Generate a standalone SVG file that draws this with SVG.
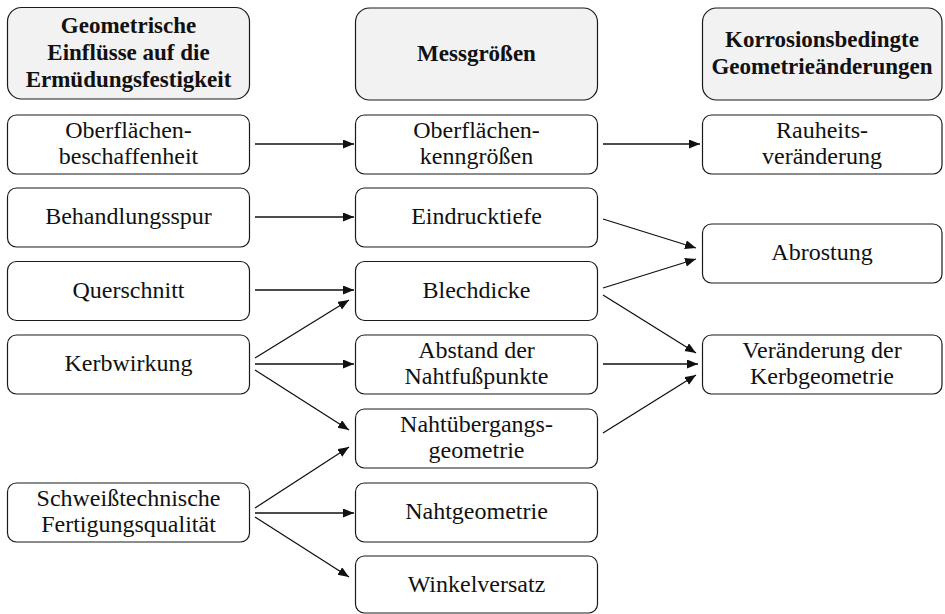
<svg xmlns="http://www.w3.org/2000/svg" width="945" height="614" viewBox="0 0 945 614">
  <style>
    .box { fill: #ffffff; stroke: #1a1a1a; stroke-width: 1.2; }
    .head { fill: #f2f2f2; stroke: #1a1a1a; stroke-width: 1.2; }
    .t { font-family: "Liberation Serif", "Times New Roman", serif; font-size: 24px; fill: #111; text-anchor: middle; }
    .h { font-family: "Liberation Serif", "Times New Roman", serif; font-size: 23px; font-weight: bold; fill: #111; text-anchor: middle; }
    .c { stroke: #111; stroke-width: 1.3; fill: none; marker-end: url(#arrow); }
  </style>
  <defs>
    <marker id="arrow" markerUnits="userSpaceOnUse" markerWidth="12" markerHeight="10" refX="11" refY="4.5" orient="auto">
      <path d="M0,0 L11,4.5 L0,9 z" fill="#111"/>
    </marker>
  </defs>

  <rect width="945" height="614" fill="#ffffff"/>

  <!-- column headers -->
  <g id="head-left">
    <rect class="head" x="7.5" y="7.5" width="242" height="91.5" rx="14"/>
    <text class="h" x="128.5" y="33">Geometrische</text>
    <text class="h" x="128.5" y="60">Einflüsse auf die</text>
    <text class="h" x="128.5" y="87">Ermüdungsfestigkeit</text>
  </g>
  <g id="head-mid">
    <rect class="head" x="355.5" y="8" width="242" height="92" rx="14"/>
    <text class="h" x="476.5" y="61">Messgrößen</text>
  </g>
  <g id="head-right">
    <rect class="head" x="702.5" y="8" width="239.5" height="92" rx="14"/>
    <text class="h" x="822" y="47">Korrosionsbedingte</text>
    <text class="h" x="822" y="74">Geometrieänderungen</text>
  </g>

  <!-- left column -->
  <g id="oberflaechenbeschaffenheit">
    <rect class="box" x="7.5" y="115" width="242" height="59" rx="9"/>
    <text class="t" x="128.5" y="138">Oberflächen-</text>
    <text class="t" x="128.5" y="164">beschaffenheit</text>
  </g>
  <g id="behandlungsspur">
    <rect class="box" x="7.5" y="188" width="242" height="59" rx="9"/>
    <text class="t" x="128.5" y="224">Behandlungsspur</text>
  </g>
  <g id="querschnitt">
    <rect class="box" x="7.5" y="261.5" width="242" height="59" rx="9"/>
    <text class="t" x="128.5" y="297.5">Querschnitt</text>
  </g>
  <g id="kerbwirkung">
    <rect class="box" x="7.5" y="335" width="242" height="59" rx="9"/>
    <text class="t" x="128.5" y="371">Kerbwirkung</text>
  </g>
  <g id="schweisstechnik">
    <rect class="box" x="7.5" y="483" width="242" height="59" rx="9"/>
    <text class="t" x="128.5" y="506">Schweißtechnische</text>
    <text class="t" x="128.5" y="532">Fertigungsqualität</text>
  </g>

  <!-- middle column -->
  <g id="oberflaechenkenngroessen">
    <rect class="box" x="355.5" y="115" width="242" height="59" rx="9"/>
    <text class="t" x="476.5" y="138">Oberflächen-</text>
    <text class="t" x="476.5" y="164">kenngrößen</text>
  </g>
  <g id="eindrucktiefe">
    <rect class="box" x="355.5" y="188" width="242" height="59" rx="9"/>
    <text class="t" x="476.5" y="224">Eindrucktiefe</text>
  </g>
  <g id="blechdicke">
    <rect class="box" x="355.5" y="261.5" width="242" height="59" rx="9"/>
    <text class="t" x="476.5" y="297.5">Blechdicke</text>
  </g>
  <g id="abstand">
    <rect class="box" x="355.5" y="335" width="242" height="59" rx="9"/>
    <text class="t" x="476.5" y="358">Abstand der</text>
    <text class="t" x="476.5" y="384">Nahtfußpunkte</text>
  </g>
  <g id="nahtuebergang">
    <rect class="box" x="355.5" y="409" width="242" height="59" rx="9"/>
    <text class="t" x="476.5" y="432">Nahtübergangs-</text>
    <text class="t" x="476.5" y="458">geometrie</text>
  </g>
  <g id="nahtgeometrie">
    <rect class="box" x="355.5" y="483" width="242" height="59" rx="9"/>
    <text class="t" x="476.5" y="519">Nahtgeometrie</text>
  </g>
  <g id="winkelversatz">
    <rect class="box" x="355.5" y="556" width="242" height="57" rx="9"/>
    <text class="t" x="476.5" y="592">Winkelversatz</text>
  </g>

  <!-- right column -->
  <g id="rauheit">
    <rect class="box" x="702.5" y="115" width="239.5" height="59" rx="9"/>
    <text class="t" x="822" y="138">Rauheits-</text>
    <text class="t" x="822" y="164">veränderung</text>
  </g>
  <g id="abrostung">
    <rect class="box" x="702.5" y="224" width="239.5" height="59" rx="9"/>
    <text class="t" x="822" y="260">Abrostung</text>
  </g>
  <g id="kerbgeometrie">
    <rect class="box" x="702.5" y="335" width="239.5" height="59" rx="9"/>
    <text class="t" x="822" y="358">Veränderung der</text>
    <text class="t" x="822" y="384">Kerbgeometrie</text>
  </g>

  <!-- connectors -->
  <g id="connectors">
    <line class="c" x1="255" y1="144" x2="354" y2="144"/>
    <line class="c" x1="255" y1="217" x2="354" y2="217"/>
    <line class="c" x1="255" y1="290" x2="354" y2="290"/>
    <line class="c" x1="255" y1="358" x2="349" y2="300"/>
    <line class="c" x1="255" y1="364" x2="354" y2="364"/>
    <line class="c" x1="255" y1="370" x2="349" y2="430"/>
    <line class="c" x1="255" y1="508" x2="349" y2="447"/>
    <line class="c" x1="255" y1="513" x2="354" y2="513"/>
    <line class="c" x1="255" y1="517" x2="349" y2="577"/>

    <line class="c" x1="603" y1="144" x2="700" y2="144"/>
    <line class="c" x1="603" y1="219" x2="696" y2="248"/>
    <line class="c" x1="603" y1="288" x2="696" y2="259"/>
    <line class="c" x1="603" y1="295" x2="696" y2="353"/>
    <line class="c" x1="603" y1="364" x2="698" y2="364"/>
    <line class="c" x1="603" y1="433" x2="696" y2="375"/>
  </g>
</svg>
